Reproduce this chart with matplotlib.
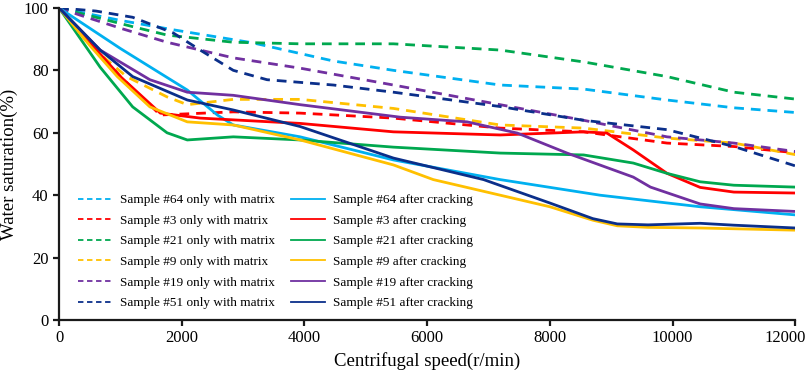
import matplotlib.pyplot as plt
import matplotlib.transforms as mtransforms
from matplotlib.lines import Line2D

plt.rcParams['font.family'] = ['Liberation Serif', 'DejaVu Serif']

# cores das amostras
cores = {
    '64': '#00B0F0',
    '3': '#FF0000',
    '21': '#00A84F',
    '9': '#FFC000',
    '19': '#7030A0',
    '51': '#0B2F8A',
}
amostras = ['64', '3', '21', '9', '19', '51']

# apenas matriz (tracejado)
x_m64 = [0, 500, 1000, 1860, 3160, 4470, 5450, 7190, 8550, 9910, 11000, 12000]
y_m64 = [100, 98, 96, 93, 88.8, 83, 80, 75.3, 74, 70.5, 68, 66.5]
x_m3 = [0, 1000, 1650, 2840, 3930, 5450, 7190, 8550, 9910, 11000, 12000]
y_m3 = [100, 78, 65.7, 66.7, 66.3, 64.7, 61.5, 60.3, 56.7, 55.6, 53.6]
x_m21 = [0, 600, 1200, 1760, 2840, 3930, 5450, 7190, 8550, 9910, 11000, 12000]
y_m21 = [100, 97, 94, 91.3, 89, 88.5, 88.5, 86.5, 82.7, 78, 73, 70.8]
x_m9 = [0, 500, 1100, 1760, 2090, 2840, 3930, 5450, 7190, 8550, 9910, 11000, 12000]
y_m9 = [100, 88, 78, 71.5, 69, 70.7, 70.7, 67.8, 62.5, 61.5, 58.3, 56.7, 53]
x_m19 = [0, 340, 1000, 1760, 2840, 3930, 5450, 7190, 8550, 9910, 11000, 12000]
y_m19 = [100, 97.7, 93.5, 89, 84, 80.7, 75.3, 69, 64, 58.7, 56.7, 54]
x_m51 = [0, 600, 1200, 1860, 2300, 2840, 3390, 4470, 5450, 7190, 8550, 9910, 11000, 12000]
y_m51 = [100, 99, 97, 92, 86.5, 80, 77, 75.3, 73, 68.4, 64, 61, 55.6, 49.4]

# depois do fraturamento (solido)
x_c64 = [0, 1000, 2090, 2580, 2840, 3930, 5450, 7190, 8820, 10450, 12000]
y_c64 = [100, 87, 73.7, 65.7, 62.5, 58.7, 51.3, 45, 40, 36.3, 33.7]
x_c3 = [0, 500, 1000, 1650, 2300, 3930, 5450, 7190, 8550, 8930, 9360, 9910, 10450, 11000, 12000]
y_c3 = [100, 89, 78, 66.3, 64.7, 63, 60.3, 59.3, 60.3, 59.9, 54.5, 47, 42.5, 41, 40.7]
x_c21 = [0, 670, 1200, 1760, 2090, 2840, 3930, 5450, 7190, 8550, 9360, 9910, 10450, 11000, 12000]
y_c21 = [100, 81, 68.3, 60, 57.7, 58.7, 57.7, 55.4, 53.5, 52.9, 50.3, 47, 44.3, 43.2, 42.6]
x_c9 = [0, 500, 950, 1480, 2090, 2840, 3930, 5450, 6100, 8000, 8700, 9100, 9600, 10450, 12000]
y_c9 = [100, 88, 78, 68.3, 63.5, 62.5, 57.7, 49.7, 45, 36.3, 32, 30.2, 29.7, 29.5, 28.8]
x_c19 = [0, 670, 1480, 2090, 2840, 3930, 5560, 6650, 7470, 8280, 9360, 9640, 10450, 11000, 12000]
y_c19 = [100, 86.5, 77, 73, 72, 69, 65, 63.5, 59.9, 53.5, 45.8, 42.6, 37.2, 35.7, 34.8]
x_c51 = [0, 670, 1200, 2090, 2840, 3930, 5450, 6920, 8000, 8700, 9100, 9600, 10450, 11000, 12000]
y_c51 = [100, 86.5, 78, 70.5, 67.3, 62, 51.9, 45, 37.5, 32.5, 30.8, 30.5, 31, 30.4, 29.5]

matriz = {'64': (x_m64, y_m64), '3': (x_m3, y_m3), '21': (x_m21, y_m21),
          '9': (x_m9, y_m9), '19': (x_m19, y_m19), '51': (x_m51, y_m51)}
fratura = {'64': (x_c64, y_c64), '3': (x_c3, y_c3), '21': (x_c21, y_c21),
           '9': (x_c9, y_c9), '19': (x_c19, y_c19), '51': (x_c51, y_c51)}

fig = plt.figure(figsize=(8.09, 3.77), dpi=100)
ax = fig.add_axes([0.073, 0.151, 0.910, 0.828])

for s in amostras:
    xs, ys = matriz[s]
    ax.plot(xs, ys, color=cores[s], lw=2.0, ls=(0, (3.5, 2.5)))
for s in amostras:
    xs, ys = fratura[s]
    ax.plot(xs, ys, color=cores[s], lw=2.0)

# legenda em duas colunas
handles = []
labels = []
for s in amostras:
    handles.append(Line2D([], [], color=cores[s], lw=1.3, ls=(0, (3, 2))))
    labels.append('Sample #%s only with matrix' % s)
for s in amostras:
    handles.append(Line2D([], [], color=cores[s], lw=1.3))
    labels.append('Sample #%s after cracking' % s)
ax.legend(handles, labels, ncol=2, loc='upper left', frameon=False,
          bbox_to_anchor=(0.096, 0.485), bbox_transform=fig.transFigure,
          fontsize=9.5, handlelength=2.6, handletextpad=0.6,
          columnspacing=1.2, labelspacing=0.63, borderpad=0, borderaxespad=0)

ax.set_xlim(0, 12000)
ax.set_ylim(0, 100)
ax.set_xticks(range(0, 12001, 2000))
ax.set_yticks(range(0, 101, 20))
ax.spines['top'].set_visible(False)
ax.spines['right'].set_visible(False)
for lado in ['left', 'bottom']:
    ax.spines[lado].set_linewidth(1.6)
    ax.spines[lado].set_color('#1a1a1a')
ax.tick_params(width=1.6, length=4, labelsize=12, color='#1a1a1a')
ax.set_xlabel('Centrifugal speed(r/min)', fontsize=13.5)
ax.set_ylabel('Water saturation(%)', fontsize=13.5)

# ultimo rotulo do eixo x um pouco para a esquerda
ultimo = ax.get_xticklabels()[-1]
ultimo.set_transform(ultimo.get_transform() +
                     mtransforms.ScaledTranslation(-10 / 100, 0, fig.dpi_scale_trans))

fig.savefig('out.png', dpi=100)
